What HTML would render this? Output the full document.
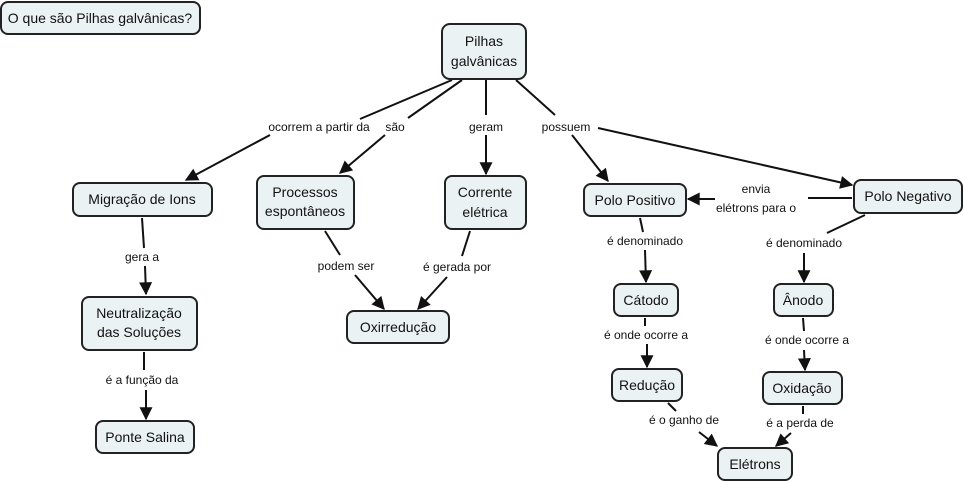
<!DOCTYPE html>
<html><head><meta charset="utf-8"><style>
html,body{margin:0;padding:0;background:#fff;width:964px;height:482px;overflow:hidden}
svg{display:block}
text{font-family:"Liberation Sans",sans-serif;fill:#111}
.n{fill:#ebf2f4;stroke:#222;stroke-width:2}
.l{stroke:#111;stroke-width:2;fill:none}
.t{font-size:14px;text-anchor:middle}
.s{font-size:12px;text-anchor:middle}
</style></head><body>
<svg width="964" height="482" viewBox="0 0 964 482">
<defs>
<marker id="b" viewBox="0 0 10 10" refX="9" refY="5" markerWidth="15" markerHeight="13" orient="auto" markerUnits="userSpaceOnUse"><path d="M0,0 L10,5 L0,10z" fill="#111"/></marker></defs>
<g class="l">
<line x1="452" y1="80" x2="360" y2="119"/><line x1="270" y1="135" x2="186" y2="180" marker-end="url(#b)"/>
<line x1="462" y1="80" x2="408" y2="118"/><line x1="385" y1="135" x2="340" y2="173" marker-end="url(#b)"/>
<line x1="486" y1="80" x2="486" y2="115"/><line x1="486" y1="135" x2="486" y2="174" marker-end="url(#b)"/>
<line x1="516" y1="80" x2="555" y2="115"/><line x1="572" y1="135" x2="608" y2="181" marker-end="url(#b)"/>
<line x1="598" y1="128" x2="852" y2="185" marker-end="url(#b)"/>
<line x1="142" y1="218" x2="144" y2="248"/><line x1="145" y1="266" x2="146" y2="294" marker-end="url(#b)"/>
<line x1="144" y1="352" x2="144" y2="370"/><line x1="146" y1="390" x2="146" y2="419" marker-end="url(#b)"/>
<line x1="325" y1="231" x2="340" y2="255"/><line x1="355" y1="275" x2="384" y2="309" marker-end="url(#b)"/>
<line x1="470" y1="231" x2="462" y2="256"/><line x1="447" y1="277" x2="418" y2="309" marker-end="url(#b)"/>
<line x1="852" y1="198" x2="808" y2="198"/><line x1="715" y1="199" x2="688" y2="199" marker-end="url(#b)"/>
<line x1="640" y1="218" x2="643" y2="232"/><line x1="645" y1="250" x2="646" y2="282" marker-end="url(#b)"/>
<line x1="865" y1="215" x2="827" y2="233"/><line x1="804" y1="253" x2="804" y2="282" marker-end="url(#b)"/>
<line x1="645" y1="318" x2="645" y2="326"/><line x1="647" y1="344" x2="647" y2="367" marker-end="url(#b)"/>
<line x1="803" y1="318" x2="804" y2="331"/><line x1="804" y1="350" x2="805" y2="370" marker-end="url(#b)"/>
<line x1="668" y1="403" x2="676" y2="411"/><line x1="699" y1="432" x2="717" y2="446" marker-end="url(#b)"/>
<line x1="803" y1="406" x2="803" y2="414"/><line x1="791" y1="433" x2="776" y2="446" marker-end="url(#b)"/>
</g>
<rect class="n" x="1" y="2" width="199" height="32" rx="7"/><text class="t" x="100" y="23">O que são Pilhas galvânicas?</text>
<rect class="n" x="442" y="24" width="84" height="55" rx="8"/><text class="t" x="484" y="46">Pilhas</text><text class="t" x="484" y="66">galvânicas</text>
<rect class="n" x="73" y="183" width="139" height="33" rx="7"/><text class="t" x="142" y="204">Migração de Ions</text>
<rect class="n" x="257" y="176" width="97" height="53" rx="7"/><text class="t" x="305" y="197">Processos</text><text class="t" x="305" y="216">espontâneos</text>
<rect class="n" x="445" y="176" width="81" height="53" rx="7"/><text class="t" x="485" y="197">Corrente</text><text class="t" x="485" y="217">elétrica</text>
<rect class="n" x="584" y="184" width="102" height="32" rx="7"/><text class="t" x="635" y="205">Polo Positivo</text>
<rect class="n" x="854" y="180" width="108" height="33" rx="7"/><text class="t" x="908" y="201">Polo Negativo</text>
<rect class="n" x="82" y="297" width="115" height="53" rx="7"/><text class="t" x="139" y="318">Neutralização</text><text class="t" x="139" y="337">das Soluções</text>
<rect class="n" x="347" y="311" width="102" height="32" rx="7"/><text class="t" x="398" y="332">Oxirredução</text>
<rect class="n" x="614" y="284" width="64" height="32" rx="7"/><text class="t" x="646" y="305">Cátodo</text>
<rect class="n" x="774" y="284" width="59" height="32" rx="7"/><text class="t" x="803" y="305">Ânodo</text>
<rect class="n" x="612" y="369" width="70" height="32" rx="7"/><text class="t" x="647" y="390">Redução</text>
<rect class="n" x="763" y="372" width="79" height="32" rx="7"/><text class="t" x="802" y="393">Oxidação</text>
<rect class="n" x="96" y="421" width="98" height="32" rx="7"/><text class="t" x="145" y="442">Ponte Salina</text>
<rect class="n" x="718" y="448" width="74" height="32" rx="7"/><text class="t" x="755" y="469">Elétrons</text>
<text class="s" x="319" y="131">ocorrem a partir da</text>
<text class="s" x="395" y="131">são</text>
<text class="s" x="486" y="131">geram</text>
<text class="s" x="566" y="131">possuem</text>
<text class="s" x="756" y="193">envia</text>
<text class="s" x="756" y="212">elétrons para o</text>
<text class="s" x="645" y="245">é denominado</text>
<text class="s" x="804" y="247">é denominado</text>
<text class="s" x="142" y="261">gera a</text>
<text class="s" x="346" y="270">podem ser</text>
<text class="s" x="457" y="271">é gerada por</text>
<text class="s" x="142" y="384">é a função da</text>
<text class="s" x="646" y="339">é onde ocorre a</text>
<text class="s" x="807" y="344">é onde ocorre a</text>
<text class="s" x="684" y="424">é o ganho de</text>
<text class="s" x="800" y="427">é a perda de</text>
</svg>
</body></html>
